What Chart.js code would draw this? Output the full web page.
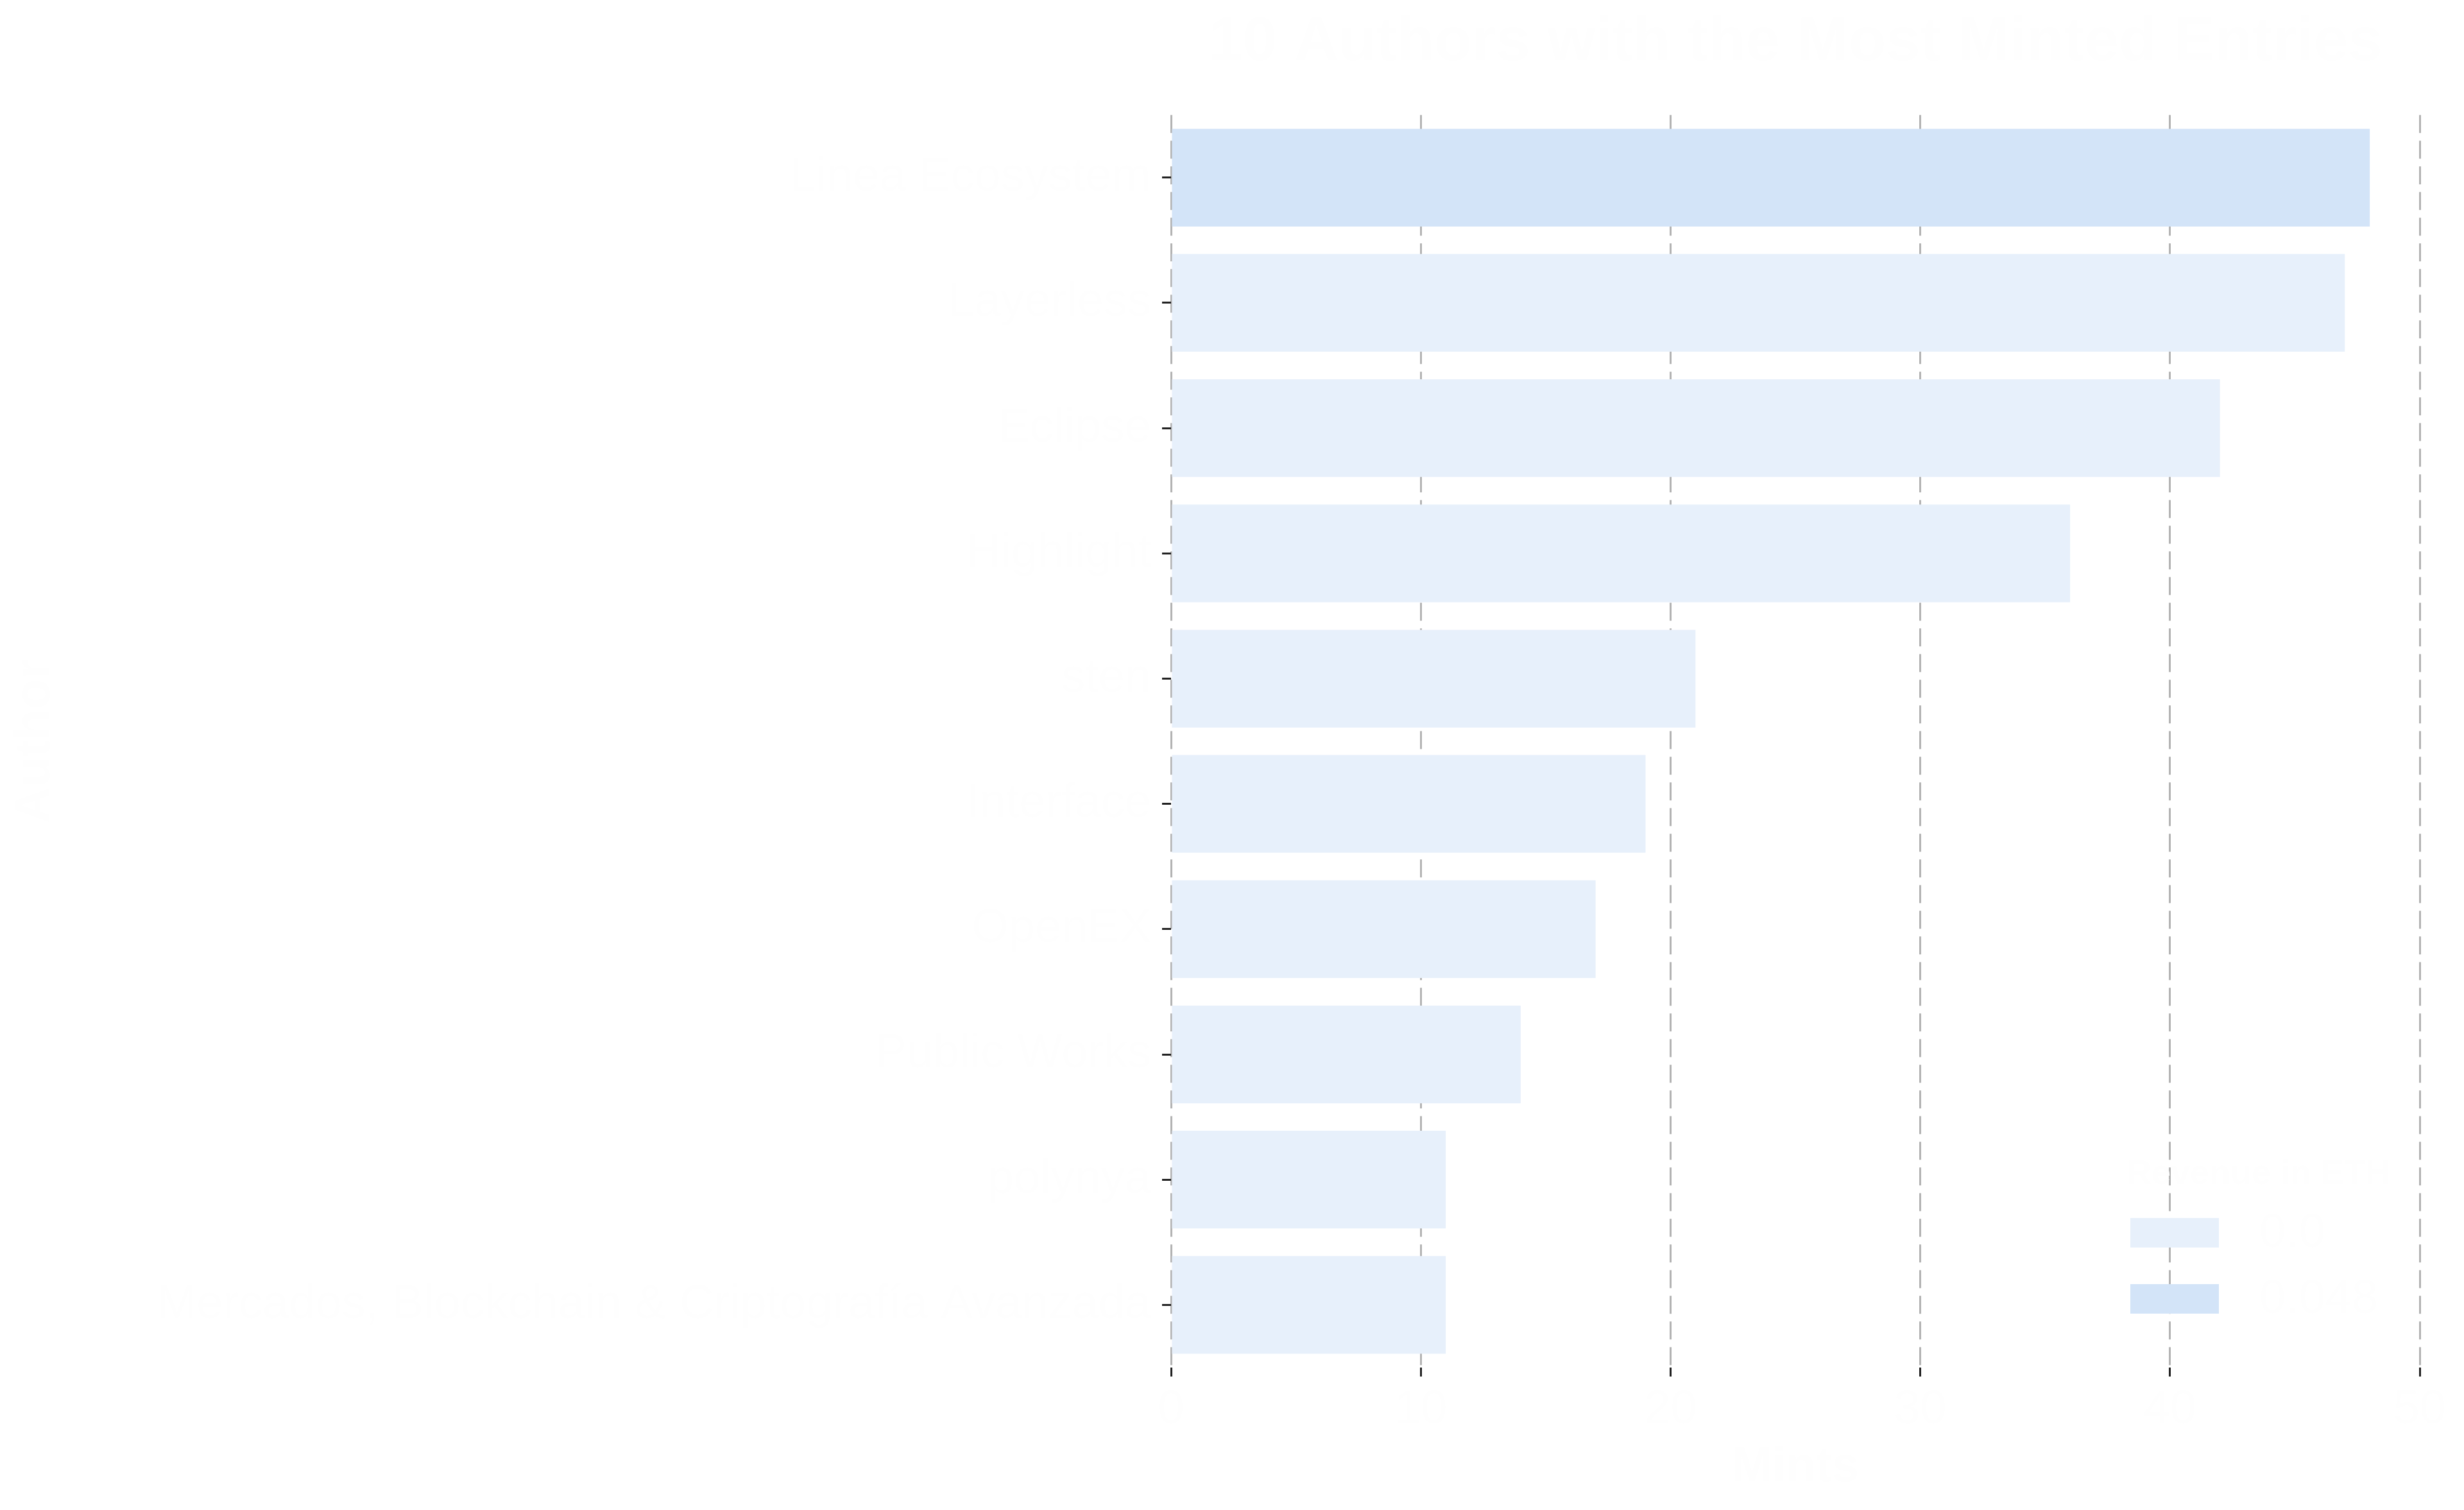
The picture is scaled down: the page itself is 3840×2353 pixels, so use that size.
<!DOCTYPE html>
<html>
<head>
<meta charset="utf-8">
<script src="https://cdn.jsdelivr.net/npm/chart.js@4/dist/chart.umd.min.js"></script>
<style>
  html, body { margin: 0; padding: 0; background: #ffffff; }
  #wrap { width: 3840px; height: 2353px; }
</style>
</head>
<body>
<div id="wrap"><canvas id="barChart" width="3840" height="2353"></canvas></div>
<script>
var authors = [
  "Linea Ecosystem",
  "Layerless",
  "Eclipse",
  "Highlight",
  "sten",
  "Interface",
  "OpenEX",
  "Public Works",
  "polynya",
  "Mercados, Blockchain & Criptografía Avanzada"
];
var mints = [48, 47, 42, 36, 21, 19, 17, 14, 11, 11];
var revenueEth = [0.048, 0, 0, 0, 0, 0, 0, 0, 0, 0];
var revenueLevels = [0, 0.048];
var revenueLabels = ["0.0", "0.048"];
var levelColors = ["#e7f0fb", "#d3e4f8"];
var xTicks = [0, 10, 20, 30, 40, 50];

var textColor = "#fefefe";
var fontFamily = "'Liberation Sans', Arial, sans-serif";

// one dataset per revenue level, so each bar gets its colour from the legend
var datasets = revenueLevels.map(function (level, i) {
  return {
    label: revenueLabels[i],
    data: mints.map(function (m, j) { return revenueEth[j] === level ? m : null; }),
    backgroundColor: levelColors[i],
    borderWidth: 0,
    barPercentage: 0.78,
    categoryPercentage: 1.0
  };
});

// legend drawn inside the plot, bottom right
var innerLegend = {
  id: "innerLegend",
  afterDraw: function (chart) {
    var ctx = chart.ctx;
    ctx.save();
    ctx.fillStyle = textColor;
    ctx.textAlign = "left";
    ctx.textBaseline = "alphabetic";
    ctx.font = "bold 54px " + fontFamily;
    ctx.fillText("Revenue in ETH", 3314, 1845);
    ctx.font = "74px " + fontFamily;
    ctx.textBaseline = "middle";
    var boxTop = [1898, 2001];
    for (var i = 0; i < revenueLabels.length; i++) {
      ctx.fillStyle = levelColors[i];
      ctx.fillRect(3320, boxTop[i], 138, 46);
      ctx.fillStyle = textColor;
      ctx.fillText(revenueLabels[i], 3521, boxTop[i] + 25);
    }
    ctx.restore();
  }
};

var ctx = document.getElementById("barChart").getContext("2d");
var myChart = new Chart(ctx, {
  type: "bar",
  data: {
    labels: authors,
    datasets: datasets
  },
  options: {
    indexAxis: "y",
    responsive: false,
    animation: false,
    layout: {
      padding: { left: 0, right: 69, top: 0, bottom: 0 }
    },
    plugins: {
      legend: { display: false },
      tooltip: { enabled: false },
      title: {
        display: true,
        text: "10 Authors with the Most Minted Entries",
        color: textColor,
        fullSize: false,
        font: { family: fontFamily, size: 96, weight: "bold" },
        padding: { top: 10, bottom: 54 }
      }
    },
    scales: {
      x: {
        stacked: true,
        min: 0,
        max: 50,
        afterBuildTicks: function (scale) {
          scale.ticks = xTicks.map(function (v) { return { value: v }; });
        },
        afterFit: function (scale) { scale.height = 222; },
        border: { display: false, dash: [28, 12] },
        grid: {
          color: "#b3b3b3",
          lineWidth: 3,
          drawTicks: true,
          tickLength: 14,
          tickColor: "#222222",
          tickWidth: 3,
          tickBorderDash: []
        },
        ticks: {
          color: textColor,
          padding: 8,
          font: { family: fontFamily, size: 74 }
        },
        title: {
          display: true,
          text: "Mints",
          color: textColor,
          font: { family: fontFamily, size: 76, weight: "bold" },
          padding: { top: 0, bottom: 20 }
        }
      },
      y: {
        stacked: true,
        afterFit: function (scale) { scale.width = 1825; },
        border: { display: false },
        grid: {
          offset: false,
          drawOnChartArea: false,
          drawTicks: true,
          tickLength: 14,
          tickColor: "#222222",
          tickWidth: 3
        },
        ticks: {
          color: textColor,
          padding: 17,
          font: { family: fontFamily, size: 74 }
        },
        title: {
          display: true,
          text: "Author",
          color: textColor,
          font: { family: fontFamily, size: 78, weight: "bold" },
          padding: { top: 9, bottom: 0 }
        }
      }
    }
  },
  plugins: [innerLegend]
});
</script>
</body>
</html>
